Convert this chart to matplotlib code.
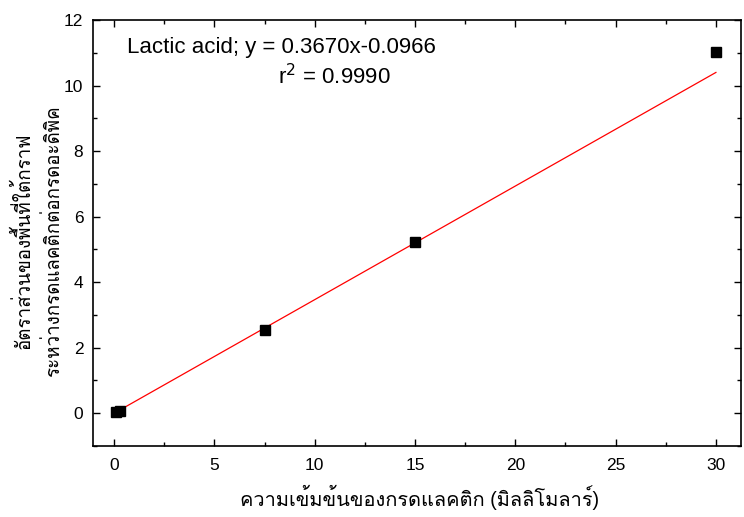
import matplotlib
matplotlib.use("Agg")
from matplotlib import pyplot as plt
from matplotlib import font_manager
from matplotlib.ft2font import FT2Font
from matplotlib.ticker import MultipleLocator

# find any installed family with Thai glyphs
thaiFamilies = []
for f in font_manager.fontManager.ttflist:
    try:
        if 0x0E01 in FT2Font(f.fname).get_charmap() and f.name not in thaiFamilies:
            thaiFamilies.append(f.name)
    except Exception:
        pass

plt.rcParams['font.family'] = ['Liberation Sans'] + thaiFamilies + ['DejaVu Sans']

# lactic acid standards
concX = [0.12, 0.3, 7.5, 15, 30]
ratioY = [0.05, 0.08, 2.53, 5.23, 11.03]
ratioErr = [0.0, 0.0, 0.03, 0.03, 0.12]
# fitted line as drawn in the picture
fitX = [0.12, 30]
fitY = [0.04, 10.4]

fig = plt.figure(figsize=(7.44, 5.17), dpi=100)
ax = fig.add_axes([93/744, 1 - 446/517, (741-93)/744, (446-20)/517])

ax.plot(fitX, fitY, color='red', lw=0.9, zorder=2)
ax.errorbar(concX, ratioY, yerr=ratioErr, fmt='s', color='black', ms=6.5,
            capsize=2, elinewidth=1, zorder=3)

ax.set_xlim(-1.05, 31.25)
ax.set_ylim(-1, 12)
ax.xaxis.set_major_locator(MultipleLocator(5))
ax.xaxis.set_minor_locator(MultipleLocator(2.5))
ax.yaxis.set_major_locator(MultipleLocator(2))
ax.yaxis.set_minor_locator(MultipleLocator(1))
ax.tick_params(which='both', direction='in', top=True, right=True, labelsize=12.5)
ax.tick_params(which='major', length=5, width=1)
ax.tick_params(which='minor', length=3, width=1)
ax.tick_params(axis='x', pad=9)
ax.tick_params(axis='y', pad=7)
for s in ax.spines.values():
    s.set_linewidth(1.2)

fig.text(127/744, 1 - 47/517, 'Lactic acid; y = 0.3670x-0.0966', fontsize=16,
         va='center', ha='left')
fig.text(278/744, 1 - 77/517, 'r$^2$ = 0.9990', fontsize=16, va='center', ha='left')

fig.text(420/744, 1 - 497/517, 'ความเข้มข้นของกรดแลคติก (มิลลิโมลาร์)', fontsize=14.4,
         ha='center', va='center')
fig.text(38/744, 1 - 241/517, 'อัตราส่วนของพื้นที่ใต้กราฟ\nระหว่างกรดแลคติกต่อกรดอะดิพิค',
         fontsize=13.5, rotation=90, ha='center', va='center', multialignment='center',
         linespacing=1.6)

fig.savefig('out.png', dpi=100)
